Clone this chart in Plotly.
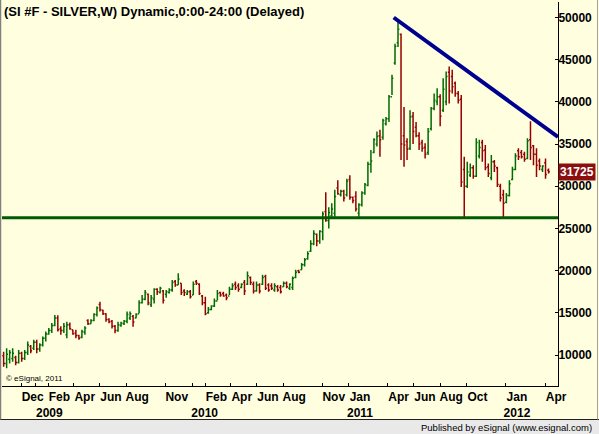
import pandas as pd
import plotly.graph_objects as go

# ---------------- data (chart units: price x 1000) ----------------
first_week = "2008-10-20"
n_weeks = 182

opens = [9900, 9000, 9500, 9600, 9700, 9100, 10200, 9600, 10300, 11000,
         10800, 11500, 10700, 11200, 12000, 12500, 12900, 13500, 14400, 13100,
         12900, 12400, 13600, 13000, 12600, 12300, 12100, 12700, 14100, 13700,
         14100, 14800, 16000, 15300, 14900, 14200, 14000, 13400, 12900, 13500,
         13700, 14000, 14400, 14600, 14400, 14900, 16200, 16600, 17200, 16000,
         16600, 17800, 17400, 17600, 17200, 17400, 17700, 18700, 18300, 18500,
         17600, 17200, 17500, 17100, 18700, 18400, 17000, 16200, 15000, 15400,
         15800, 16400, 17400, 17300, 17100, 17000, 17800, 18400, 18200, 18000,
         18600, 18400, 19200, 18400, 17600, 18300, 18400, 19300, 18300, 18200,
         17700, 18100, 18000, 18100, 18500, 17900, 18000, 19200, 20000, 20100,
         20700, 21400, 22300, 23200, 24300, 23500, 24600, 27000, 25900, 26500,
         26800, 29800, 29000, 29400, 29000, 30800, 28700, 28800, 26800, 27800,
         29200, 30100, 32600, 34000, 35000, 36000, 35800, 37400, 38000, 40600,
         44600, 47000, 48000, 36000, 35300, 34500, 38300, 37000, 36000, 35200,
         34600, 34000, 36800, 39200, 40000, 40600, 39000, 40000, 43500, 43000,
         42200, 41000, 40300, 32000, 30000, 31300, 32200, 31200, 33600, 35200,
         34300, 32300, 31000, 32900, 32200, 30000, 29000, 28100, 28900, 30800,
         32000, 34200, 34000, 33800, 33300, 35500, 34800, 33800, 33000, 32000,
         32800, 31900]
highs = [10400, 10790, 10600, 10800, 9900, 10600, 10400, 10600, 11600, 11200,
         11800, 11800, 11400, 12200, 12800, 13200, 13800, 14750, 14700, 13400,
         13800, 13950, 13850, 13000, 13000, 12400, 13000, 13400, 14250, 14250,
         14950, 15750, 16300, 15350, 14950, 14350, 14150, 13550, 13950, 13950,
         14150, 15150, 15150, 14750, 14950, 16500, 17100, 17700, 17300, 17100,
         17900, 17900, 18100, 17700, 17700, 17900, 18900, 18900, 19700, 18500,
         17800, 17700, 17700, 18700, 18900, 18500, 17100, 16900, 15700, 15900,
         16700, 17700, 17500, 17500, 17300, 18100, 18500, 18700, 18500, 18500,
         18900, 19900, 19300, 18700, 18700, 18500, 19500, 19500, 18500, 18500,
         18500, 18300, 18300, 18700, 18700, 18500, 19300, 20100, 20100, 20900,
         21500, 22300, 23600, 24800, 24400, 24800, 27000, 29300, 27500, 28000,
         29600, 30700, 29600, 29600, 30900, 31300, 28800, 29400, 28000, 29400,
         30400, 32900, 34300, 35700, 36500, 36700, 38000, 38200, 40800, 43200,
         46900, 49800, 48100, 39400, 35700, 39000, 38800, 37600, 36400, 35500,
         35100, 36900, 39400, 41000, 41600, 40900, 42800, 43600, 44200, 43800,
         42400, 41300, 40800, 33500, 32900, 32700, 32500, 35700, 35500, 35500,
         34900, 32700, 33700, 33100, 32300, 30300, 29600, 29200, 30700, 32300,
         33900, 34500, 34300, 34100, 35700, 37700, 34900, 34500, 33300, 32500,
         33300, 32100]
lows = [8620, 8420, 9000, 9200, 8800, 9000, 9200, 9400, 10000, 10200,
        10600, 10200, 10400, 11000, 11600, 12400, 12600, 13400, 12800, 12400,
        12600, 12000, 13000, 12400, 12000, 11800, 12000, 12400, 13550, 13700,
        14000, 14550, 15150, 14750, 13950, 13750, 13150, 12570, 12760, 13350,
        13550, 13750, 14150, 13360, 14350, 14940, 16100, 16500, 15900, 15700,
        16100, 17100, 17300, 16100, 16800, 17300, 17500, 18100, 18300, 17100,
        17000, 17100, 16700, 17100, 18300, 17100, 15900, 14700, 14900, 15300,
        15700, 16500, 16900, 16900, 16500, 17100, 17700, 17700, 17500, 17900,
        17100, 18300, 18300, 17300, 17500, 17300, 18300, 17700, 17500, 17700,
        17500, 17500, 17300, 18100, 17900, 17700, 17700, 19100, 19700, 20100,
        20500, 21300, 22200, 23000, 22900, 23200, 23600, 25800, 25000, 26400,
        26400, 29000, 28800, 28200, 28800, 28400, 28000, 27000, 26400, 27600,
        29000, 30000, 31600, 33900, 34700, 33500, 35500, 37200, 37600, 40800,
        44400, 46500, 33100, 32300, 33100, 34300, 35000, 35800, 34300, 34100,
        33300, 33700, 36600, 39000, 39600, 37100, 38800, 39600, 39800, 41000,
        40600, 39800, 29900, 26200, 29800, 31100, 30900, 31100, 33300, 32900,
        31900, 31100, 30700, 31700, 29900, 28200, 26200, 28000, 28800, 30700,
        31900, 33100, 33300, 32900, 33200, 33100, 32500, 31100, 31900, 31700,
        30900, 31500]
closes = [9000, 10100, 10300, 10200, 9100, 10200, 9600, 10300, 11200, 10500,
          11500, 10700, 11200, 12000, 12500, 12900, 13500, 14400, 13000, 12900,
          13400, 13600, 13100, 12500, 12300, 12000, 12800, 13200, 13700, 14100,
          14800, 15600, 15400, 14900, 14200, 13900, 13400, 12900, 13600, 13800,
          14000, 14800, 14900, 13900, 14800, 16200, 16600, 17400, 16200, 16800,
          17800, 17500, 17900, 16500, 17500, 17700, 18600, 18300, 19000, 17400,
          17400, 17500, 16900, 18400, 18500, 17300, 16200, 14900, 15400, 15800,
          16400, 17300, 17100, 17000, 16800, 17800, 18200, 18000, 17800, 18400,
          17600, 19400, 18600, 17600, 18300, 17600, 19200, 17900, 17700, 17900,
          18200, 17700, 17500, 18500, 18100, 18400, 19100, 19800, 19800, 20700,
          21300, 22000, 23200, 24400, 23500, 24700, 26700, 26000, 26900, 27300,
          28800, 29100, 29400, 28600, 30600, 28700, 28300, 27300, 27800, 29200,
          30200, 32600, 33000, 35500, 35900, 35500, 37800, 38000, 40600, 42800,
          46600, 48600, 35000, 34900, 34400, 38200, 36500, 36000, 35000, 34500,
          33800, 36500, 39200, 40200, 40600, 38300, 41500, 43000, 41300, 41800,
          41000, 40200, 30500, 30000, 31700, 32200, 31200, 35200, 34600, 34200,
          32200, 31500, 32900, 32400, 30200, 28600, 28000, 28900, 30300, 32000,
          33600, 33500, 33500, 33200, 35400, 34600, 33800, 32500, 32400, 32400,
          31400, 31725]

# drawn trend lines
resistance_dates = ["2011-04-15", "2012-05-01"]
resistance_values = [50000, 35840]
support_level = 26280

# axis ticks
x_tick_dates = ["2008-12-01", "2009-01-01", "2009-02-01", "2009-04-01", "2009-06-01",
                "2009-08-01", "2009-11-01", "2010-01-01", "2010-02-01", "2010-04-01",
                "2010-06-01", "2010-08-01", "2010-11-01", "2011-01-01", "2011-04-01",
                "2011-06-01", "2011-08-01", "2011-10-01", "2012-01-01", "2012-04-01"]
x_tick_text = ["Dec", "\u00a0<br>\u00a0\u00a02009", "Feb", "Apr", "Jun", "Aug", "Nov",
               "\u00a0<br>\u00a02010", "Feb", "Apr", "Jun", "Aug", "Nov", "Jan<br>2011",
               "Apr", "Jun", "Aug", "Oct", "Jan<br>2012", "Apr"]
y_ticks = [10000, 15000, 20000, 25000, 30000, 35000, 40000, 45000, 50000]
x_range = ["2008-10-16 05:00", "2012-05-01"]
y_range = [6326, 51837]

title_text = "(SI #F - SILVER,W) Dynamic,0:00-24:00 (Delayed)"

# ---------------- figure ----------------
dates = pd.date_range(first_week, periods=n_weeks, freq="7D")
W, H = 599, 434
L, R, T, B = 2, 41, 2, 48
pw, ph = W - L - R, H - T - B

def px_x(p):
    return (p - L) / pw

def px_y(p):
    return (H - B - p) / ph

BG = "#FFFFE0"
GREEN = "#006B00"
RED = "#960000"
FONT = "Liberation Sans, Arial, sans-serif"

fig = go.Figure()
fig.add_trace(go.Ohlc(
    x=dates, open=opens, high=highs, low=lows, close=closes,
    increasing=dict(line=dict(color=GREEN, width=1.5)),
    decreasing=dict(line=dict(color=RED, width=1.5)),
    tickwidth=0.45, showlegend=False, hoverinfo="skip",
))
fig.add_trace(go.Scatter(
    x=resistance_dates, y=resistance_values, mode="lines",
    line=dict(color="#000090", width=4), showlegend=False, hoverinfo="skip",
))
fig.add_hline(y=support_level, line=dict(color="#005A00", width=3))

fig.update_layout(
    width=W, height=H, margin=dict(l=L, r=R, t=T, b=B, autoexpand=False),
    paper_bgcolor=BG, plot_bgcolor=BG,
    font=dict(family=FONT, color="black"),
    xaxis=dict(
        type="date", range=x_range, rangeslider=dict(visible=False),
        tickmode="array", tickvals=x_tick_dates, ticktext=x_tick_text,
        tickangle=0, automargin=False,
        ticks="inside", ticklen=3, tickcolor="black",
        tickfont=dict(family=FONT, size=12, color="black", weight="bold"),
        ticklabelshift=11, ticklabelstandoff=0,
        showline=True, linecolor="black", linewidth=1,
        showgrid=False, zeroline=False, fixedrange=True,
    ),
    yaxis=dict(
        side="right", range=y_range, tickmode="array", tickvals=y_ticks,
        ticktext=[str(v) for v in y_ticks], automargin=False,
        ticks="inside", ticklen=3, tickcolor="black",
        tickfont=dict(family=FONT, size=12, color="black", weight="bold"),
        ticklabelstandoff=-3,
        showline=True, linecolor="black", linewidth=1, mirror=False,
        showgrid=False, zeroline=False, fixedrange=True,
    ),
)

# last price tag
fig.add_annotation(
    x=1, xref="paper", xanchor="left", xshift=0, y=closes[-1], yref="y",
    text=f"{closes[-1]}", showarrow=False, bgcolor="#8B0F0F",
    font=dict(family=FONT, size=12, color="white", weight="bold"),
    borderpad=1,
)
# title
fig.add_annotation(
    x=0, xref="paper", xanchor="left", y=1, yref="paper", yanchor="top",
    text=title_text, showarrow=False,
    font=dict(family=FONT, size=13, color="black", weight="bold"),
)
# copyright
fig.add_annotation(
    x=px_x(4), xref="paper", xanchor="left", y=px_y(378), yref="paper", yanchor="middle",
    text="© eSignal, 2011", showarrow=False,
    font=dict(family=FONT, size=8, color="black"),
)
# footer
fig.add_shape(type="rect", xref="paper", yref="paper", x0=px_x(0), x1=px_x(W),
              y0=px_y(H), y1=px_y(419.5), fillcolor="#E9E9E9", line=dict(width=0), layer="below")
fig.add_shape(type="line", xref="paper", yref="paper", x0=px_x(0), x1=px_x(W),
              y0=px_y(419.5), y1=px_y(419.5), line=dict(color="#202020", width=1))
fig.add_shape(type="line", xref="paper", yref="paper", x0=px_x(0.5), x1=px_x(0.5),
              y0=px_y(0), y1=px_y(419.5), line=dict(color="#808080", width=1.5))
fig.add_shape(type="line", xref="paper", yref="paper", x0=px_x(597.5), x1=px_x(597.5),
              y0=px_y(0), y1=px_y(419.5), line=dict(color="#A0A0A0", width=1))
fig.add_annotation(
    x=px_x(594), xref="paper", xanchor="right", y=px_y(427), yref="paper", yanchor="middle",
    text="Published by eSignal (www.esignal.com)", showarrow=False,
    font=dict(family=FONT, size=9.5, color="black"),
)

fig.write_html("out.html", config={"displayModeBar": False},
               post_script="document.body.style.margin='0';document.body.style.padding='0';")
